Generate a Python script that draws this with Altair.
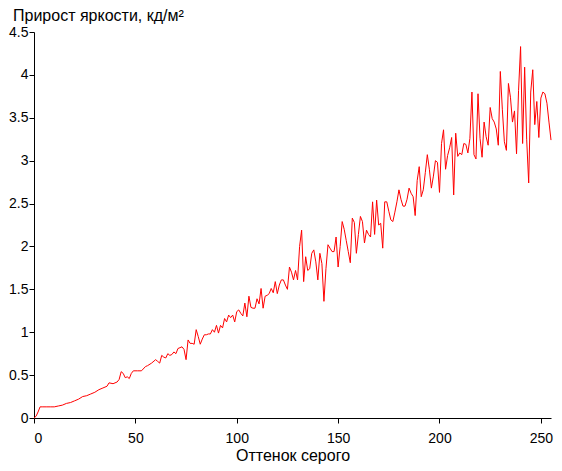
import altair as alt
import pandas as pd

FONT = "Liberation Sans"

CHART_TITLE = "Прирост яркости, кд/м²"
X_TITLE = "Оттенок серого"
X_TICKS = [0, 50, 100, 150, 200, 250]
Y_TICKS = [0, 0.5, 1, 1.5, 2, 2.5, 3, 3.5, 4, 4.5]

GRAY_LOW = [0, 1, 2, 3, 4, 6, 8, 10, 12, 14, 16, 18, 20, 22, 24, 26, 28, 30, 32, 34,
            36, 37, 39, 41, 42, 43, 44, 45, 46, 47, 48, 49, 51, 53, 55, 56, 58, 60, 61, 62]
GAIN_LOW = [0.00, 0.02, 0.07, 0.13, 0.13, 0.13, 0.13, 0.13, 0.14, 0.15, 0.17, 0.18, 0.20, 0.22,
            0.25, 0.26, 0.28, 0.30, 0.33, 0.35, 0.37, 0.41, 0.40, 0.42, 0.45, 0.54, 0.52, 0.47,
            0.48, 0.46, 0.52, 0.55, 0.55, 0.55, 0.60, 0.61, 0.64, 0.68, 0.66, 0.64]

GRAY_HIGH = list(range(63, 256))
GAIN_HIGH = [
    0.73, 0.71, 0.70, 0.75, 0.73, 0.74, 0.77, 0.75, 0.81, 0.82,  # 63-72
    0.83, 0.80, 0.68, 0.91, 0.87, 0.87, 0.86, 1.03, 0.95, 0.86,  # 73-82
    0.92, 0.97, 0.97, 0.98, 0.98, 1.03, 1.00, 1.08, 0.99, 1.08,  # 83-92
    1.05, 1.16, 1.12, 1.20, 1.17, 1.20, 1.12, 1.24, 1.26, 1.22,  # 93-102
    1.19, 1.34, 1.18, 1.42, 1.29, 1.28, 1.28, 1.39, 1.33, 1.51,  # 103-112
    1.28, 1.42, 1.43, 1.45, 1.51, 1.46, 1.59, 1.45, 1.55, 1.61,  # 113-122
    1.61, 1.55, 1.50, 1.76, 1.70, 1.61, 1.72, 1.61, 2.00, 2.19,  # 123-132
    1.59, 1.88, 1.72, 1.74, 1.92, 1.96, 1.82, 1.61, 1.92, 1.80,  # 133-142
    1.36, 1.74, 2.02, 1.98, 1.94, 1.94, 2.11, 1.76, 2.00, 2.29,  # 143-152
    2.20, 2.07, 1.94, 1.81, 2.33, 2.28, 1.92, 2.14, 2.35, 2.29,  # 153-162
    2.04, 2.19, 2.14, 2.11, 2.52, 2.14, 2.54, 2.25, 2.27, 1.98,  # 163-172
    2.52, 2.52, 2.41, 2.31, 2.29, 2.40, 2.52, 2.66, 2.55, 2.47,  # 173-182
    2.47, 2.55, 2.68, 2.62, 2.58, 2.36, 2.77, 2.93, 2.58, 2.66,  # 183-192
    2.86, 3.07, 2.90, 2.68, 2.82, 3.00, 2.98, 2.63, 3.20, 3.36,  # 193-202
    2.90, 3.06, 3.15, 3.27, 2.60, 3.32, 3.05, 3.09, 3.07, 3.20,  # 203-212
    3.19, 3.09, 3.26, 3.80, 3.07, 3.02, 3.78, 3.26, 3.04, 3.45,  # 213-222
    3.28, 3.18, 3.62, 3.49, 3.45, 3.37, 3.18, 4.04, 3.60, 3.22,  # 223-232
    3.12, 3.90, 3.74, 3.45, 3.58, 3.08, 3.82, 4.33, 3.20, 4.09,  # 233-242
    3.25, 2.74, 3.80, 4.06, 3.42, 3.69, 3.27, 3.73, 3.80, 3.78,  # 243-252
    3.67, 3.45, 3.24,                                            # 253-255
]

df = pd.DataFrame({"g": GRAY_LOW + GRAY_HIGH, "v": GAIN_LOW + GAIN_HIGH})

line = alt.Chart(df).mark_line(color="#ff0000", strokeWidth=1).encode(
    x=alt.X("g:Q",
            scale=alt.Scale(domain=[0, 255], nice=False, zero=False),
            axis=alt.Axis(title=X_TITLE, values=X_TICKS, format="d",
                          labelPadding=8, titlePadding=2)),
    y=alt.Y("v:Q",
            scale=alt.Scale(domain=[0, 4.5], nice=False),
            axis=alt.Axis(title=None, values=Y_TICKS, format=".1~f",
                          labelPadding=1)),
)

title_df = pd.DataFrame({"t": [CHART_TITLE]})
title = alt.Chart(title_df).mark_text(
    align="left", baseline="alphabetic", font=FONT, fontSize=16, color="#000000"
).encode(x=alt.value(-21), y=alt.value(-11), text="t:N")

chart = alt.layer(line, title).properties(
    width=517, height=386,
    padding={"left": 26, "top": 24, "right": 3, "bottom": 48},
    autosize=alt.AutoSizeParams(type="none"),
).configure_view(stroke=None).configure_axis(
    grid=False, domainColor="#000000", tickColor="#000000",
    labelColor="#000000", titleColor="#000000",
    labelFont=FONT, titleFont=FONT, labelFontSize=14, titleFontSize=16,
    titleFontWeight="normal", tickSize=5,
    domainWidth=1, tickWidth=1,
)

chart.save("out.html", embed_options={"renderer": "svg", "actions": False})
